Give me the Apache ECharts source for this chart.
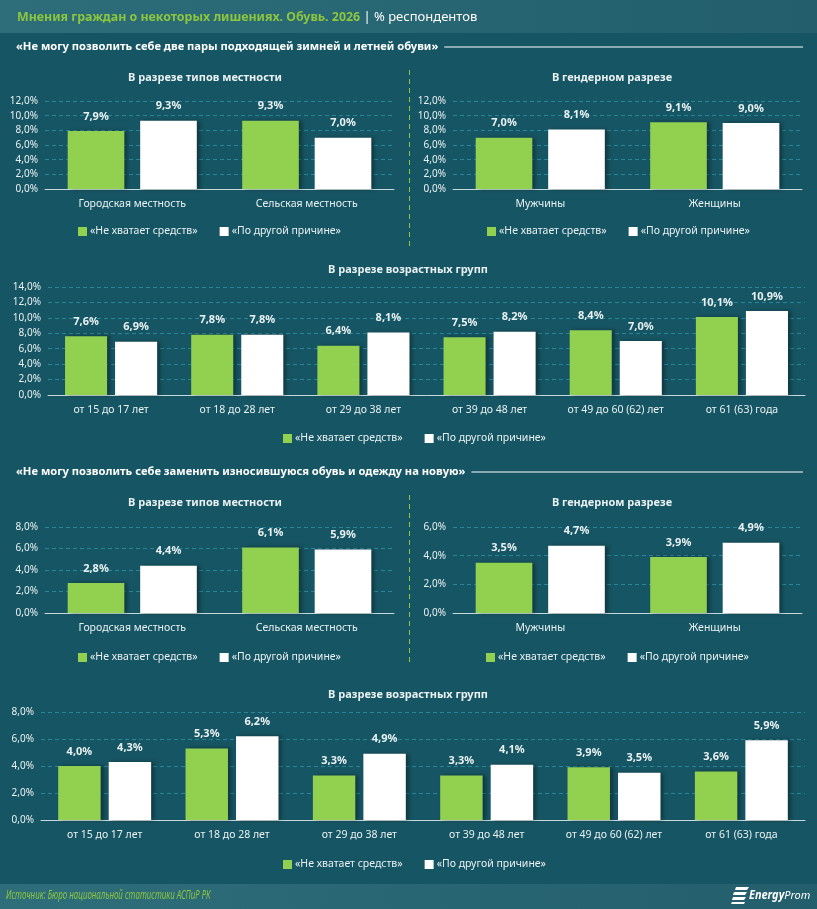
<!DOCTYPE html>
<html>
<head>
<meta charset="utf-8">
<script src="https://cdn.jsdelivr.net/npm/echarts@6/dist/echarts.min.js"></script>
<style>
  html, body { margin: 0; padding: 0; background: #165563; }
  #main { width: 817px; height: 909px; }
</style>
</head>
<body>
<div id="main"></div>
<script>
// данные
var seriesNames = ['«Не хватает средств»', '«По другой причине»'];

var placeCats = ['Городская местность', 'Сельская местность'];
var genderCats = ['Мужчины', 'Женщины'];
var ageCats = ['от 15 до 17 лет', 'от 18 до 28 лет', 'от 29 до 38 лет', 'от 39 до 48 лет', 'от 49 до 60 (62) лет', 'от 61 (63) года'];

// блок 1: две пары обуви
var shoesPlaceLack = [7.9, 9.3];
var shoesPlaceOther = [9.3, 7.0];
var shoesGenderLack = [7.0, 9.1];
var shoesGenderOther = [8.1, 9.0];
var shoesAgeLack = [7.6, 7.8, 6.4, 7.5, 8.4, 10.1];
var shoesAgeOther = [6.9, 7.8, 8.1, 8.2, 7.0, 10.9];

// блок 2: заменить изношенную обувь и одежду
var wornPlaceLack = [2.8, 6.1];
var wornPlaceOther = [4.4, 5.9];
var wornGenderLack = [3.5, 3.9];
var wornGenderOther = [4.7, 4.9];
var wornAgeLack = [4.0, 5.3, 3.3, 3.3, 3.9, 3.6];
var wornAgeOther = [4.3, 6.2, 4.9, 4.1, 3.5, 5.9];

var axisMax = [12, 12, 14, 8, 6, 8];

var FONT = 'Noto Sans';
var GREEN = '#92d050';
var TXT = '#e9f1f2';

function pct(v) { return v.toFixed(1).replace('.', ',') + '%'; }

// ширина текста, чтобы линия после заголовка начиналась сразу за ним
var ctx = document.createElement('canvas').getContext('2d');
function textW(t, font) { ctx.font = font; return ctx.measureText(t).width; }

var myChart = echarts.init(document.getElementById('main'));

// положение сеток
var grids = [
    { left: 45, width: 349, top: 101, height: 88 },
    { left: 453, width: 349, top: 101, height: 88 },
    { left: 48, width: 757, top: 287, height: 108 },
    { left: 45, width: 349, top: 527, height: 86 },
    { left: 453, width: 349, top: 527, height: 86 },
    { left: 41, width: 764, top: 712, height: 108 }
];
var cats = [placeCats, genderCats, ageCats, placeCats, genderCats, ageCats];
var lack = [shoesPlaceLack, shoesGenderLack, shoesAgeLack, wornPlaceLack, wornGenderLack, wornAgeLack];
var other = [shoesPlaceOther, shoesGenderOther, shoesAgeOther, wornPlaceOther, wornGenderOther, wornAgeOther];

var xAxes = [], yAxes = [], series = [];
for (var i = 0; i < 6; i++) {
    var wide = cats[i].length > 2;
    xAxes.push({
        type: 'category', gridIndex: i, data: cats[i],
        axisTick: { show: false },
        axisLine: { lineStyle: { color: '#c9d9dc', width: 1 } },
        axisLabel: { color: TXT, fontSize: 10.5, fontFamily: FONT, margin: 10, interval: 0 }
    });
    yAxes.push({
        type: 'value', gridIndex: i, min: 0, max: axisMax[i], interval: 2,
        axisLine: { show: false }, axisTick: { show: false },
        splitLine: { lineStyle: { color: '#2a8598', type: [4, 3], width: 1 } },
        axisLabel: { color: TXT, fontSize: 10, fontFamily: FONT, margin: 7, formatter: pct }
    });
    var common = {
        type: 'bar', xAxisIndex: i, yAxisIndex: i,
        barGap: wide ? '19%' : '28%',
        barCategoryGap: wide ? '27%' : '26%',
        label: {
            show: true, position: 'top', distance: 9,
            color: TXT, fontSize: 11, fontWeight: 'bold', fontFamily: FONT,
            formatter: function (p) { return pct(p.value); }
        }
    };
    series.push(Object.assign({}, common, {
        name: seriesNames[0], data: lack[i],
        itemStyle: { color: GREEN, shadowColor: 'rgba(0,0,0,0.35)', shadowBlur: 4, shadowOffsetX: 3 }
    }));
    series.push(Object.assign({}, common, {
        name: seriesNames[1], data: other[i],
        itemStyle: { color: '#ffffff', shadowColor: 'rgba(0,0,0,0.35)', shadowBlur: 4, shadowOffsetX: 3 }
    }));
}

var legendPos = [[78, 226], [487, 226], [283, 433], [78, 652], [486, 652], [283, 859]];
var legends = legendPos.map(function (p) {
    return {
        left: p[0], top: p[1], padding: 0,
        data: seriesNames, icon: 'rect', itemWidth: 9, itemHeight: 9, itemGap: 22,
        selectedMode: false,
        textStyle: { color: TXT, fontSize: 10.5, fontFamily: FONT, padding: [0, 0, 0, -2] }
    };
});

function subTitle(x, y, t) {
    return {
        type: 'text', x: x, y: y,
        style: { text: t, fill: TXT, font: 'bold 11px "' + FONT + '"', textAlign: 'center', textVerticalAlign: 'middle' }
    };
}

var secFont = 'bold 11.2px "' + FONT + '"';
var sec1 = '«Не могу позволить себе две пары подходящей зимней и летней обуви»';
var sec2 = '«Не могу позволить себе заменить износившуюся обувь и одежду на новую»';
var sec1End = 16 + textW(sec1, secFont) + 6;
var sec2End = 16 + textW(sec2, secFont) + 6;

var graphic = [
    // шапка
    {
        type: 'rect', shape: { x: 0, y: 0, width: 817, height: 33 },
        style: { fill: new echarts.graphic.LinearGradient(0, 0, 1, 0, [
            { offset: 0, color: '#2d6e7a' }, { offset: 1, color: '#225e6c' }]) }
    },
    {
        type: 'text', x: 17, y: 17,
        style: {
            text: '{g|Мнения граждан о некоторых лишениях. Обувь. 2026} {w|| % респондентов}',
            textVerticalAlign: 'middle',
            rich: {
                g: { fill: '#8cc63f', font: 'bold 12.4px "' + FONT + '"' },
                w: { fill: '#ffffff', font: '13px "' + FONT + '"' }
            }
        }
    },
    // блок 1
    {
        type: 'text', x: 16, y: 47,
        style: { text: sec1, fill: '#ffffff', font: secFont, textVerticalAlign: 'middle' }
    },
    { type: 'line', shape: { x1: sec1End, y1: 47, x2: 803, y2: 47 }, style: { stroke: '#ffffff', lineWidth: 1.2 } },
    { type: 'line', shape: { x1: 409.5, y1: 70, x2: 409.5, y2: 246 }, style: { stroke: '#8cc63f', lineWidth: 1, lineDash: [5, 4] } },
    subTitle(205, 78, 'В разрезе типов местности'),
    subTitle(612, 78, 'В гендерном разрезе'),
    subTitle(408, 270, 'В разрезе возрастных групп'),
    // блок 2
    {
        type: 'text', x: 16, y: 472,
        style: { text: sec2, fill: '#ffffff', font: secFont, textVerticalAlign: 'middle' }
    },
    { type: 'line', shape: { x1: sec2End, y1: 472, x2: 803, y2: 472 }, style: { stroke: '#ffffff', lineWidth: 1.2 } },
    { type: 'line', shape: { x1: 409.5, y1: 495, x2: 409.5, y2: 662 }, style: { stroke: '#8cc63f', lineWidth: 1, lineDash: [5, 4] } },
    subTitle(205, 503, 'В разрезе типов местности'),
    subTitle(612, 503, 'В гендерном разрезе'),
    subTitle(408, 695, 'В разрезе возрастных групп'),
    // подвал
    {
        type: 'rect', shape: { x: 0, y: 884, width: 817, height: 25 },
        style: { fill: new echarts.graphic.LinearGradient(0, 0, 1, 0, [
            { offset: 0, color: '#2e6e7a' }, { offset: 1, color: '#235e6c' }]) }
    },
    {
        type: 'text', x: 6, y: 896, scaleX: 0.66,
        style: { text: 'Источник: Бюро национальной статистики АСПиР РК', fill: '#8cc63f',
            font: 'italic 12px "' + FONT + '"', textVerticalAlign: 'middle' }
    },
    // логотип
    { type: 'polygon', shape: { points: [[736, 887], [749, 887], [747, 890], [735, 890]] }, style: { fill: '#ffffff' } },
    { type: 'polygon', shape: { points: [[734, 892], [747, 892], [745, 895], [733, 895]] }, style: { fill: '#ffffff' } },
    { type: 'polygon', shape: { points: [[733, 897], [746, 897], [744, 900], [732, 900]] }, style: { fill: '#ffffff' } },
    { type: 'polygon', shape: { points: [[732, 902], [745, 902], [744, 904], [731, 904]] }, style: { fill: '#ffffff' } },
    {
        type: 'text', x: 749, y: 896, scaleX: 0.95,
        style: {
            text: '{b|Energy}{n|Prom}', textVerticalAlign: 'middle',
            rich: {
                b: { fill: '#ffffff', font: 'italic bold 11.5px "' + FONT + '"' },
                n: { fill: '#ffffff', font: 'italic 11.5px "' + FONT + '"' }
            }
        }
    }
];

var option = {
    backgroundColor: '#165563',
    animation: false,
    textStyle: { fontFamily: FONT },
    grid: grids,
    xAxis: xAxes,
    yAxis: yAxes,
    legend: legends,
    series: series,
    graphic: graphic
};
myChart.setOption(option);
</script>
</body>
</html>
